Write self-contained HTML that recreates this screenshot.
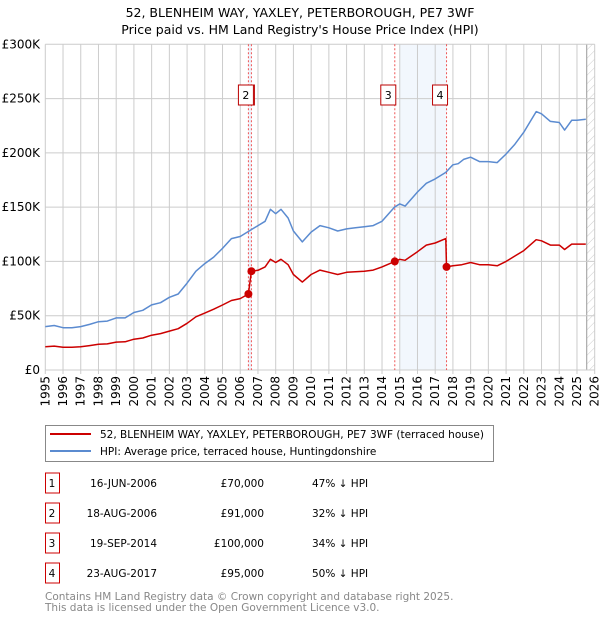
<!DOCTYPE html>
<html><head><meta charset="utf-8"><style>
body{margin:0;background:#fff;font-family:"DejaVu Sans","Liberation Sans",sans-serif;}
svg text{font-family:"DejaVu Sans","Liberation Sans",sans-serif;}
</style></head><body>
<svg id="chart" width="600" height="620" viewBox="0 0 600 620" xmlns="http://www.w3.org/2000/svg">
<defs><pattern id="hatch" patternUnits="userSpaceOnUse" width="6" height="6" patternTransform="rotate(45)"><line x1="0" y1="0" x2="0" y2="6" stroke="#ccc" stroke-width="1"/></pattern></defs>
<text x="300" y="17" text-anchor="middle" font-size="12.5">52, BLENHEIM WAY, YAXLEY, PETERBOROUGH, PE7 3WF</text>
<text x="300" y="34" text-anchor="middle" font-size="12.5">Price paid vs. HM Land Registry's House Price Index (HPI)</text>
<g id="plot"></g>
</svg>
<script>
const yearTicks=[1995,1996,1997,1998,1999,2000,2001,2002,2003,2004,2005,2006,2007,2008,2009,2010,2011,2012,2013,2014,2015,2016,2017,2018,2019,2020,2021,2022,2023,2024,2025,2026];
const valueTicks=[0,50,100,150,200,250,300];
const valueTickLabels=["£0","£50K","£100K","£150K","£200K","£250K","£300K"];
const hpiYears=[1995,1995.5,1996,1996.5,1997,1997.5,1998,1998.5,1999,1999.5,2000,2000.5,2001,2001.5,2002,2002.5,2003,2003.5,2004,2004.5,2005,2005.5,2006,2006.5,2007,2007.4,2007.7,2008,2008.3,2008.7,2009,2009.5,2010,2010.5,2011,2011.5,2012,2012.5,2013,2013.5,2014,2014.7,2015,2015.3,2016,2016.5,2017,2017.6,2018,2018.3,2018.6,2019,2019.5,2020,2020.5,2021,2021.5,2022,2022.7,2023,2023.5,2024,2024.3,2024.7,2025,2025.5];
const hpiValues=[40,41,39,39,40,42,44.5,45,48,48,53,55,60,62,67,70,80,91,98,104,112,121,123,128,133,137,148,144,148,140,128,118,127,133,131,128,130,131,132,133,137,150,153,151,164,172,176,182,189,190,194,196,192,192,191,199,208,219,238,236,229,228,221,230,230,231];
const redYears=[1995,1995.5,1996,1996.5,1997,1997.5,1998,1998.5,1999,1999.5,2000,2000.5,2001,2001.5,2002,2002.5,2003,2003.5,2004,2004.5,2005,2005.5,2006,2006.46,2006.63,2007,2007.4,2007.7,2008,2008.3,2008.7,2009,2009.5,2010,2010.5,2011,2011.5,2012,2012.5,2013,2013.5,2014,2014.72,2015,2015.3,2016,2016.5,2017,2017.6,2017.64,2018,2018.5,2019,2019.5,2020,2020.5,2021,2021.5,2022,2022.7,2023,2023.5,2024,2024.3,2024.7,2025,2025.5];
const redValues=[21.4,22,20.9,21,21.4,22.5,23.8,24,25.7,26,28.4,29.5,32.1,33.5,35.8,38,43,49,52.4,56,59.9,64,65.8,70,91,91.8,95,102,99,102,97,88,81,88,92,90,88,90,90.5,91,92,95,100,102,101,109,115,117,121,95,96,97,99,97,97,96,100,105,110,120,119,115,115,111,116,116,116];
const saleYears=[2006.46,2006.63,2014.72,2017.64];
const saleValues=[70,91,100,95];
const saleLabels=["1","2","3","4"];
const saleDates=["16-JUN-2006","18-AUG-2006","19-SEP-2014","23-AUG-2017"];
const salePrices=["£70,000","£91,000","£100,000","£95,000"];
const saleDiffs=["47% ↓ HPI","32% ↓ HPI","34% ↓ HPI","50% ↓ HPI"];

const X0=45.3,X1=594.7,Y0=370,Y1=44.3;
const xs=y=>X0+(y-1995)/(2026-1995)*(X1-X0);
const ys=v=>Y0-v/300*(Y0-Y1);
const NS="http://www.w3.org/2000/svg";
const g=document.getElementById('plot');
function mk(tag,attrs,parent){const e=document.createElementNS(NS,tag);for(const k in attrs)e.setAttribute(k,attrs[k]);(parent||g).appendChild(e);return e;}

let band=mk('rect',{x:xs(2015.0),y:Y1,width:xs(2017.64)-xs(2015.0),height:Y0-Y1,fill:'#edf3fc',opacity:0.7});


let band2=mk('rect',{x:xs(2006.46),y:Y1,width:xs(2006.63)-xs(2006.46),height:Y0-Y1,fill:'#edf3fc'});


let hatch=mk('rect',{x:xs(2025.55),y:Y1,width:X1-xs(2025.55),height:Y0-Y1,fill:'url(#hatch)'});


mk('line',{x1:xs(2025.55),x2:xs(2025.55),y1:Y1,y2:Y0,stroke:'#999','stroke-width':1});

yearTicks.forEach(yr=>{
  let l=mk('line',{x1:xs(yr),x2:xs(yr),y1:Y1,y2:Y0+4,stroke:'#ccc','stroke-width':1});
  
  
  const x=xs(yr),y=Y0+6;
  let t=mk('text',{x:x+4,y:y,'font-size':12,'text-anchor':'end',transform:`rotate(-90 ${x+4} ${y})`});
  t.textContent=yr;
  
  
});
valueTicks.forEach((v,i)=>{
  let l=mk('line',{x1:X0,x2:X1,y1:ys(v),y2:ys(v),stroke:'#ccc','stroke-width':1});
  
  
  let t=mk('text',{x:40,y:ys(v)+4,'font-size':12,'text-anchor':'end'});
  t.textContent=valueTickLabels[i];
  
  
});

saleYears.forEach((yr,i)=>{
  let l=mk('line',{x1:xs(yr),x2:xs(yr),y1:Y1,y2:Y0,stroke:'#e55','stroke-width':1,'stroke-dasharray':'2,2'});
  
  
});

function path(xsArr,vs,color,name){
  let d=xsArr.map((yr,i)=>(i?'L':'M')+xs(yr).toFixed(1)+','+ys(vs[i]).toFixed(1)).join(' ');
  let p=mk('path',{d:d,fill:'none',stroke:color,'stroke-width':1.5,'stroke-linejoin':'round'});
  
  
}
path(hpiYears,hpiValues,'#5b8bd0','hpi-line');
path(redYears,redValues,'#cc0000','price-paid-line');

saleYears.forEach((yr,i)=>{
  let c=mk('circle',{cx:xs(yr),cy:ys(saleValues[i]),r:4,fill:'#cc0000'});
  
  
  let r=mk('rect',{x:(i===0?xs(yr)-9:xs(yr)-13),y:85,width:15,height:20,fill:'#fff',stroke:'#b00','stroke-width':1});
  if(i>=2){r.setAttribute('x',xs(yr)-14);}
  
  
  let t=mk('text',{x:+r.getAttribute('x')+7.5,y:99,'font-size':11,'text-anchor':'middle'});
  t.textContent=saleLabels[i];
  
  
});

const svg=document.getElementById('chart');
let lg=mk('g',{},svg);


mk('rect',{x:45.5,y:425.5,width:448,height:36,fill:'#fff',stroke:'#888'},lg);
mk('line',{x1:50,x2:91,y1:434,y2:434,stroke:'#cc0000','stroke-width':2},lg);
mk('line',{x1:50,x2:91,y1:451,y2:451,stroke:'#5b8bd0','stroke-width':2},lg);
let lt1=mk('text',{x:100,y:438,'font-size':10.5},lg);
lt1.textContent='52, BLENHEIM WAY, YAXLEY, PETERBOROUGH, PE7 3WF (terraced house)';


let lt2=mk('text',{x:100,y:455,'font-size':10.5},lg);
lt2.textContent='HPI: Average price, terraced house, Huntingdonshire';



saleLabels.forEach((lab,i)=>{
  const cy=483+i*30;
  let r=mk('rect',{x:45.5,y:cy-10,width:14,height:20,fill:'#fff',stroke:'#cc0000'},svg);
  
  
  const cols=[[52,lab,'middle'],[157,saleDates[i],'end'],[264,salePrices[i],'end'],[312,saleDiffs[i],'start']];
  cols.forEach(([x,s,a],j)=>{
    let t=mk('text',{x:x,y:cy+4,'font-size':10.5,'text-anchor':a},svg);
    t.textContent=s;
    
    
  });
});
let f1=mk('text',{x:45,y:600,'font-size':10.5,fill:'#888'},svg);
f1.textContent='Contains HM Land Registry data © Crown copyright and database right 2025.';


let f2=mk('text',{x:45,y:611,'font-size':10.5,fill:'#888'},svg);
f2.textContent='This data is licensed under the Open Government Licence v3.0.';


</script>
</body></html>
